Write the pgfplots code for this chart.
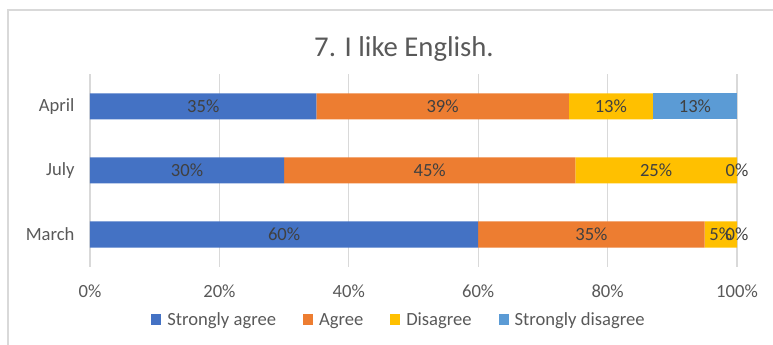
\documentclass[border=0pt]{standalone}
\usepackage{pgfplots}
\pgfplotsset{compat=1.18}
\usepackage{pgfplotstable}
\usepackage{fontspec}
\setmainfont{Carlito}
\definecolor{cA}{HTML}{4472C4}
\definecolor{cB}{HTML}{ED7D31}
\definecolor{cC}{HTML}{FFC000}
\definecolor{cD}{HTML}{5B9BD5}
\definecolor{gridc}{HTML}{D9D9D9}
\definecolor{t59}{HTML}{595959}
\definecolor{t40}{HTML}{404040}
% c: 0 = March, 1 = July, 2 = April
\pgfplotstableread{
c v
0 60
1 30
2 35
}\tSA
\pgfplotstableread{
c v
0 35
1 45
2 39
}\tAg
\pgfplotstableread{
c v
0 5
1 25
2 13
}\tDi
\pgfplotstableread{
c v
0 0
1 0
2 13
}\tSD
% data labels: segment midpoints
\pgfplotstableread{
x c lab
30 0 60\%
17.5 2 35\%
15 1 30\%
77.5 0 35\%
54.5 2 39\%
52.5 1 45\%
97.5 0 5\%
80.5 2 13\%
87.5 1 25\%
100 0 0\%
93.5 2 13\%
100 1 0\%
}\tLab
\begin{document}
\begin{tikzpicture}
\useasboundingbox (0bp,0bp) rectangle (773bp,345bp);
\draw[color=gridc, line width=1.5bp] (8bp,-5bp) -- (8bp,335bp) -- (780bp,335bp);
\node[font=\fontsize{28.7bp}{34bp}\selectfont, text=t59] at (404bp,296bp) {7. I like English.};
\begin{axis}[
  at={(90bp,78.5bp)}, anchor=south west,
  scale only axis, width=647bp, height=192bp,
  xmin=0, xmax=100, ymin=-0.5, ymax=2.5,
  xbar stacked, bar width=26bp,
  axis line style={draw=none},
  tick style={draw=none},
  xmajorgrids, grid style={color=gridc, line width=1.3bp},
  xtick={0,20,40,60,80,100},
  xticklabel={\pgfmathprintnumber{\tick}\%},
  ytick={0,1,2}, yticklabels={March,July,April},
  /pgf/number format/assume math mode=true,
  tick label style={font=\fontsize{18.6bp}{22bp}\selectfont, text=t59},
  xticklabel style={yshift=-15bp},
  yticklabel style={xshift=-12bp},
  legend style={at={(axis description cs:0.4776,-0.2786)}, anchor=center, draw=none, fill=none,
    legend columns=4, font=\fontsize{18.6bp}{22bp}\selectfont, text=t59,
    /tikz/every odd column/.append style={column sep=4bp},
    /tikz/every even column/.append style={column sep=25bp}},
  legend image code/.code={\fill[#1] (0bp,-5.5bp) rectangle (10bp,5.5bp);},
]
\addplot[fill=cA, draw=none] table[x=v, y=c] {\tSA};
\addplot[fill=cB, draw=none] table[x=v, y=c] {\tAg};
\addplot[fill=cC, draw=none] table[x=v, y=c] {\tDi};
\addplot[fill=cD, draw=none] table[x=v, y=c] {\tSD};
\legend{Strongly agree, Agree, Disagree, Strongly disagree}
\end{axis}
\begin{axis}[
  at={(90bp,78.5bp)}, anchor=south west,
  scale only axis, width=647bp, height=192bp,
  xmin=0, xmax=100, ymin=-0.5, ymax=2.5,
  hide axis, clip=false,
]
\addplot[only marks, mark=none, point meta=explicit symbolic,
  nodes near coords,
  every node near coord/.append style={anchor=center, font=\fontsize{18.6bp}{22bp}\selectfont, text=t40, inner sep=0pt}]
  table[x=x, y=c, meta=lab] {\tLab};
\end{axis}
\end{tikzpicture}
\end{document}
